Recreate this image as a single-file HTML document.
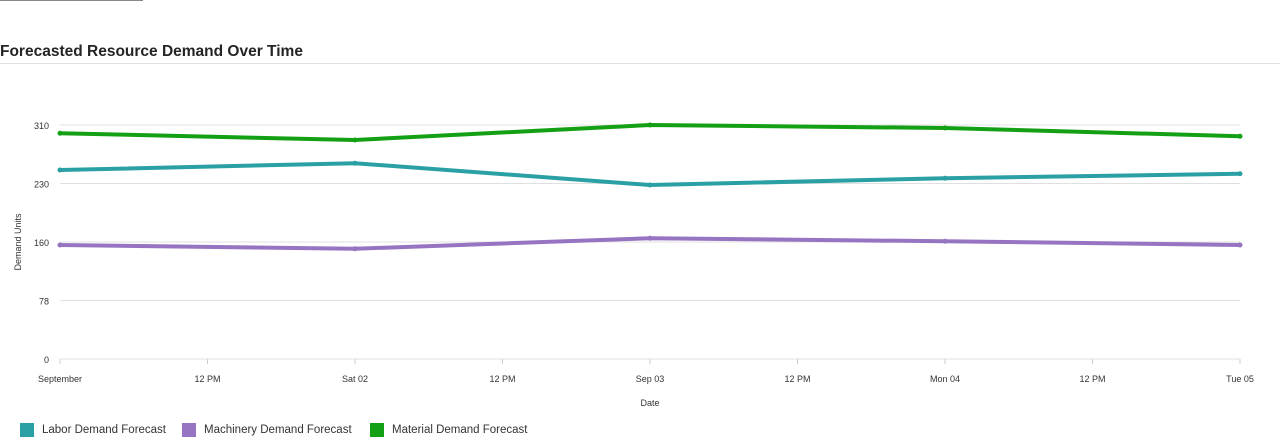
<!DOCTYPE html>
<html><head><meta charset="utf-8"><style>
body{margin:0;width:1280px;height:446px;background:#fff;font-family:"Liberation Sans",sans-serif;overflow:hidden;position:relative}
#topbar{position:absolute;left:0;top:0;width:143px;height:1px;background:#888}
#title{position:absolute;left:0;top:43px;font-size:15.5px;font-weight:bold;color:#252423}
#rule{position:absolute;left:0;top:63px;width:1280px;height:1px;background:#e1e1e1}
svg{position:absolute;left:0;top:0}
.legend{position:absolute;top:423px;font-size:11.5px;color:#333;display:flex;align-items:center}
.sw{width:14px;height:14px;margin-right:8px;display:inline-block}
</style></head><body>
<div id="topbar"></div>
<div id="title">Forecasted Resource Demand Over Time</div>
<div id="rule"></div>
<svg id="chart" width="1280" height="446"></svg>
<div class="legend" style="left:20px"><span class="sw" style="background:#2aa0a4"></span>Labor Demand Forecast</div>
<div class="legend" style="left:182px"><span class="sw" style="background:#9674c2"></span>Machinery Demand Forecast</div>
<div class="legend" style="left:370px"><span class="sw" style="background:#14a014"></span>Material Demand Forecast</div>
<script>
const categories=["September","Sat 02","Sep 03","Mon 04","Tue 05"];
const xTickLabels=["September","12 PM","Sat 02","12 PM","Sep 03","12 PM","Mon 04","12 PM","Tue 05"];
const yTickValues=[0,78,156,234,312];
const yTickLabels=["0","78","160","230","310"];
const labor=[252,261,232,241,247];
const machinery=[152,147,161,157,152];
const material=[301,292,312,308,297];
const svg=document.getElementById('chart');
const NS="http://www.w3.org/2000/svg";
const X0=60,X1=1240,Y0=359,Y1=125,YMAX=312;
function xs(i){return X0+(X1-X0)*i/(categories.length-1);}
function xt(i){return X0+(X1-X0)*i/(xTickLabels.length-1);}
function ys(v){return Y0-(Y0-Y1)*v/YMAX;}
function mk(t,a){const e=document.createElementNS(NS,t);for(const k in a)e.setAttribute(k,a[k]);svg.appendChild(e);return e;}
yTickValues.forEach((v,i)=>{
  const l=mk('line',{x1:X0,x2:X1,y1:ys(v),y2:ys(v),stroke:'#e0e0e0','stroke-width':1});
  
  
  const t=mk('text',{x:49,y:ys(v)+4,'text-anchor':'end','font-size':9,fill:'#333'});
  t.textContent=yTickLabels[i];
  
  
});
xTickLabels.forEach((s,i)=>{
  const l=mk('line',{x1:xt(i),x2:xt(i),y1:Y0,y2:Y0+5,stroke:'#ccc'});
  
  
  const t=mk('text',{x:xt(i),y:382,'text-anchor':'middle','font-size':9,fill:'#333'});
  t.textContent=s;
  
  
});
const xa=mk('text',{x:650,y:406,'text-anchor':'middle','font-size':9,fill:'#333'});xa.textContent='Date';


const ya=mk('text',{x:21,y:242,'text-anchor':'middle','font-size':9,fill:'#333',transform:'rotate(-90 21 242)'});ya.textContent='Demand Units';


[[labor,'#2aa0a4','labor'],[machinery,'#9674c2','machinery'],[material,'#14a014','material']].forEach(([d,c,n])=>{
  const p=mk('polyline',{points:d.map((v,i)=>xs(i)+','+ys(v)).join(' '),fill:'none',stroke:c,'stroke-width':4,'stroke-linejoin':'round'});
  
  
  d.forEach((v,i)=>{const m=mk('circle',{cx:xs(i),cy:ys(v),r:2.5,fill:c});
    
    });
});
</script>
</body></html>
